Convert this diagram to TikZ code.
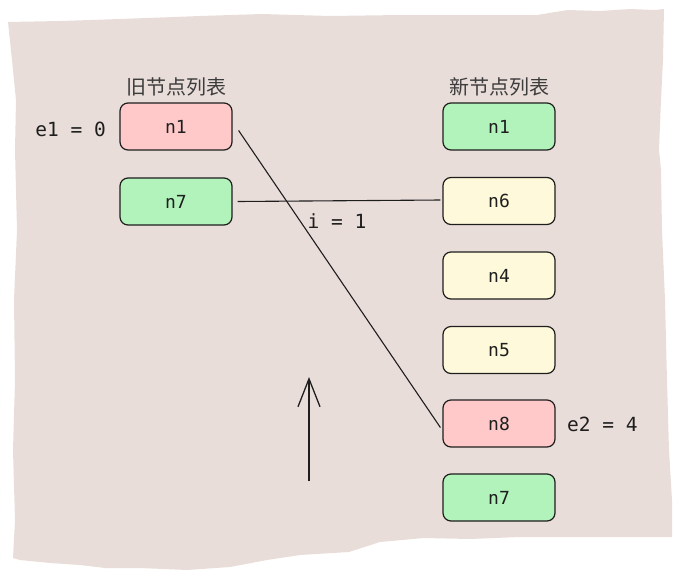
\documentclass[tikz,border=0pt]{standalone}
\usepackage{fontspec}
\newfontfamily\cjk{Noto Sans CJK SC}
\newfontfamily\codefont{DejaVu Sans Mono}
\usetikzlibrary{arrows.meta}
\definecolor{paper}{RGB}{233,221,217}
\definecolor{ink}{RGB}{30,30,30}
\definecolor{redfill}{RGB}{255,201,201}
\definecolor{greenfill}{RGB}{178,242,187}
\definecolor{yellowfill}{RGB}{255,249,219}
\definecolor{cjkgray}{RGB}{60,60,60}
\tikzset{
  x=1pt, y=-1pt,
  listbox/.style={draw=ink, line width=1.2pt, rounded corners=8pt, minimum width=112pt, minimum height=47pt, inner sep=0pt, font=\codefont\fontsize{18}{20}\selectfont, text=ink},
  oldc/.style={listbox, fill=redfill},
  newc/.style={listbox, fill=greenfill},
  midc/.style={listbox, fill=yellowfill},
  title/.style={font=\cjk\fontsize{20}{22}\selectfont, text=cjkgray, inner sep=0pt},
  code/.style={font=\codefont\fontsize{19.5}{22}\selectfont, text=ink, inner sep=0pt},
  link/.style={draw=ink, line width=1.1pt},
}
\begin{document}
\begin{tikzpicture}
\useasboundingbox (0,0) rectangle (681,582);
% torn paper background
\fill[paper] (8,22) -- (60,21) -- (120,19) -- (200,16) -- (262,14) -- (330,16) -- (400,15) -- (470,15) -- (537,15) -- (555,12) -- (568,10) -- (600,11) -- (630,9) -- (655,10) -- (664,9)
  -- (663,60) -- (661,100) -- (659,150) -- (661,170) -- (662,230) -- (665,300) -- (667,380) -- (669,450) -- (672,500) -- (672,537)
  -- (600,537) -- (520,537) -- (470,539) -- (424,538) -- (380,542) -- (349,552) -- (300,555) -- (267,560) -- (230,567) -- (187,570) -- (140,568) -- (105,568) -- (80,565) -- (50,563) -- (20,560) -- (13,558)
  -- (15,520) -- (13,450) -- (15,380) -- (14,300) -- (17,230) -- (15,150) -- (16,100) -- (12,60) -- cycle;
% titles
\node[title] (toldt) at (176,87) {旧节点列表};
\node[title] (tnewt) at (499,87) {新节点列表};
% old list
\node[oldc] (o1) at (176,126.5) {n1};
\node[newc] (o7) at (176,201.5) {n7};
% new list
\node[newc] (a1) at (499,126.5) {n1};
\node[midc] (a6) at (499,201) {n6};
\node[midc] (a4) at (499,275.5) {n4};
\node[midc] (a5) at (499,350) {n5};
\node[oldc] (a8) at (499,423.5) {n8};
\node[newc] (a7) at (499,497.5) {n7};
% labels
\node[code, anchor=east] (e1) at (106,129) {e1 = 0};
\node[code, anchor=west] (e2) at (567,424) {e2 = 4};
\node[code] (iv) at (337,221) {i = 1};
% links
\draw[link] ([xshift=6pt,yshift=-4pt]o1.east) -- ([xshift=-2pt,yshift=-4pt]a8.west);
\draw[link] ([xshift=5pt]o7.east) -- ([xshift=-2pt,yshift=1pt]a6.west);
% arrow
\coordinate (abot) at (309,481);
\coordinate (atop) at (309,377);
\draw[ink, line width=1.3pt, -{Straight Barb[length=28pt,width=22pt,line width=1.3pt]}] (abot) -- (atop);
\end{tikzpicture}
\end{document}
